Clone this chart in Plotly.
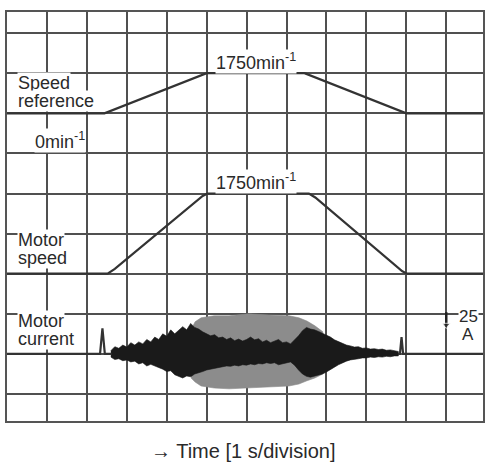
import plotly.graph_objects as go

# ---------------- data (time in s = divisions, levels in divisions) ----------------
ref_t = [0, 2.44, 5.0, 7.45, 10.0, 11.92]
ref_y = [7, 7, 8, 8, 7, 7]

spd_t = [0, 2.52, 2.7, 4.9, 5.02, 7.56, 7.72, 9.9, 10.02, 11.92]
spd_y = [3, 3, 3.12, 4.94, 5, 5, 4.9, 3.06, 3, 3]

cur_base = 1.0
cur_line_t = [0, 2.33, 2.39, 2.45, 2.62]
cur_line_y = [1, 1, 1.64, 1.0, 1.0]
cur_end_t = [9.8, 9.84, 9.88, 9.92, 11.92]
cur_end_y = [1, 1.0, 1.42, 1.0, 1.0]

dark_t = [2.6, 2.7, 2.8, 2.9, 3.0, 3.1, 3.2, 3.3, 3.4, 3.5, 3.6, 3.7, 3.8, 3.9,
          4.0, 4.1, 4.2, 4.3, 4.4, 4.5, 4.6, 4.7, 4.8, 4.9, 5.0, 5.1, 5.2, 5.3,
          5.4, 5.5, 5.6, 5.7, 5.8, 5.9, 6.0, 6.1, 6.2, 6.3, 6.4, 6.5, 6.6, 6.7,
          6.8, 6.9, 7.0, 7.1, 7.2, 7.3, 7.4, 7.5, 7.6, 7.7, 7.8, 7.9, 8.0, 8.1,
          8.2, 8.3, 8.4, 8.5, 8.6, 8.7, 8.8, 8.9, 9.0, 9.1, 9.2, 9.3, 9.4, 9.5,
          9.6, 9.7, 9.8]
dark_up = [0.08, 0.18, 0.14, 0.22, 0.17, 0.28, 0.22, 0.30, 0.25, 0.36, 0.30, 0.42, 0.36, 0.50,
           0.44, 0.60, 0.50, 0.58, 0.68, 0.60, 0.76, 0.66, 0.62, 0.55, 0.50, 0.45, 0.48, 0.40,
           0.42, 0.36, 0.40, 0.33, 0.37, 0.32, 0.36, 0.42, 0.35, 0.38, 0.30, 0.34, 0.28, 0.33,
           0.36, 0.28, 0.30, 0.25, 0.35, 0.45, 0.58, 0.66, 0.62, 0.60, 0.56, 0.52, 0.46, 0.42,
           0.35, 0.30, 0.26, 0.22, 0.20, 0.17, 0.18, 0.14, 0.15, 0.12, 0.13, 0.11, 0.12, 0.09,
           0.10, 0.08, 0.06]
dark_lo = [0.08, 0.14, 0.12, 0.17, 0.15, 0.20, 0.18, 0.25, 0.22, 0.30, 0.26, 0.28, 0.34, 0.38,
           0.44, 0.42, 0.52, 0.56, 0.60, 0.55, 0.57, 0.50, 0.47, 0.44, 0.40, 0.38, 0.36, 0.34,
           0.32, 0.30, 0.31, 0.28, 0.30, 0.27, 0.28, 0.25, 0.27, 0.24, 0.25, 0.22, 0.24, 0.22,
           0.27, 0.24, 0.22, 0.20, 0.28, 0.40, 0.50, 0.56, 0.58, 0.56, 0.53, 0.50, 0.45, 0.40,
           0.33, 0.27, 0.22, 0.18, 0.15, 0.13, 0.12, 0.10, 0.10, 0.08, 0.09, 0.07, 0.08, 0.06,
           0.07, 0.05, 0.05]

gray_t = [4.61, 4.71, 4.86, 5.19, 5.56, 6.06, 6.56, 7.06, 7.31, 7.51, 7.71, 7.91]
gray_up = [0.60, 0.80, 0.90, 0.95, 0.95, 1.00, 0.97, 0.95, 0.90, 0.82, 0.70, 0.55]
gray_lo = [0.60, 0.70, 0.80, 0.85, 0.87, 0.85, 0.82, 0.80, 0.75, 0.67, 0.60, 0.50]

scale_t = [11.0, 11.0]
scale_y = [2.04, 1.72]

FONT = "Liberation Sans, Arial, sans-serif"
INK = "#2a2a2a"

fig = go.Figure()


def band(t, up, lo, color):
    xs = list(t) + list(reversed(t))
    ys = [cur_base + u for u in up] + [cur_base - l for l in reversed(lo)]
    return go.Scatter(x=xs, y=ys, mode="lines", fill="toself", fillcolor=color,
                      line=dict(color=color, width=0.6), hoverinfo="skip", showlegend=False)


fig.add_trace(band(gray_t, gray_up, gray_lo, "#8c8c8c"))
fig.add_trace(band(dark_t, dark_up, dark_lo, "#1a1a1a"))

for xs, ys in [(ref_t, ref_y), (spd_t, spd_y), (cur_line_t, cur_line_y), (cur_end_t, cur_end_y)]:
    fig.add_trace(go.Scatter(x=xs, y=ys, mode="lines", line=dict(color="#333333", width=2.2),
                             showlegend=False, hoverinfo="skip"))

fig.add_trace(go.Scatter(x=scale_t, y=scale_y, mode="lines+markers",
                         line=dict(color="#222222", width=2.5),
                         marker=dict(symbol=["circle", "triangle-down"], size=[0, 7], color="#222222"),
                         showlegend=False, hoverinfo="skip"))

axis_common = dict(showgrid=True, gridcolor="#505050", gridwidth=1.8, dtick=1, tick0=0,
                   showticklabels=False, ticks="", zeroline=False, showline=True,
                   linecolor="#555555", linewidth=2.2, mirror=True, fixedrange=True)

fig.update_xaxes(range=[0, 11.92], **axis_common)
fig.update_yaxes(range=[-0.673, 9.526], **axis_common)

Y0_PX = 394.0
DIV_PX = 40.1


def py(p):
    return (Y0_PX - p) / DIV_PX


def label(text, x, ypx, xanchor="left", size=18):
    fig.add_annotation(x=x, y=py(ypx), xref="x", yref="y", text=text, showarrow=False,
                       xanchor=xanchor, yanchor="middle", align="left",
                       font=dict(family=FONT, size=size, color=INK),
                       bgcolor="white", borderpad=0)


label("Speed", 0.25, 83)
label("reference", 0.25, 101)
label("0min<sup>-1</sup>", 0.68, 140)
label("1750min<sup>-1</sup>", 6.23, 61, xanchor="center")
label("1750min<sup>-1</sup>", 6.23, 181, xanchor="center")
label("Motor", 0.25, 240)
label("speed", 0.25, 258)
label("Motor", 0.25, 321)
label("current", 0.25, 339)
label("25", 11.55, 316, xanchor="center", size=17)
label("A", 11.55, 334, xanchor="center", size=17)

fig.add_annotation(x=0.496, y=-0.074, xref="paper", yref="paper",
                   text="\u2192 Time [1 s/division]", showarrow=False,
                   xanchor="center", yanchor="middle",
                   font=dict(family=FONT, size=20, color=INK))

fig.update_layout(width=486, height=465, margin=dict(l=7, r=1, t=12, b=44),
                  plot_bgcolor="white", paper_bgcolor="white", showlegend=False)

fig.write_html("out.html", config={"displayModeBar": False},
               post_script="document.body.style.margin='0';document.body.style.overflow='hidden';")
